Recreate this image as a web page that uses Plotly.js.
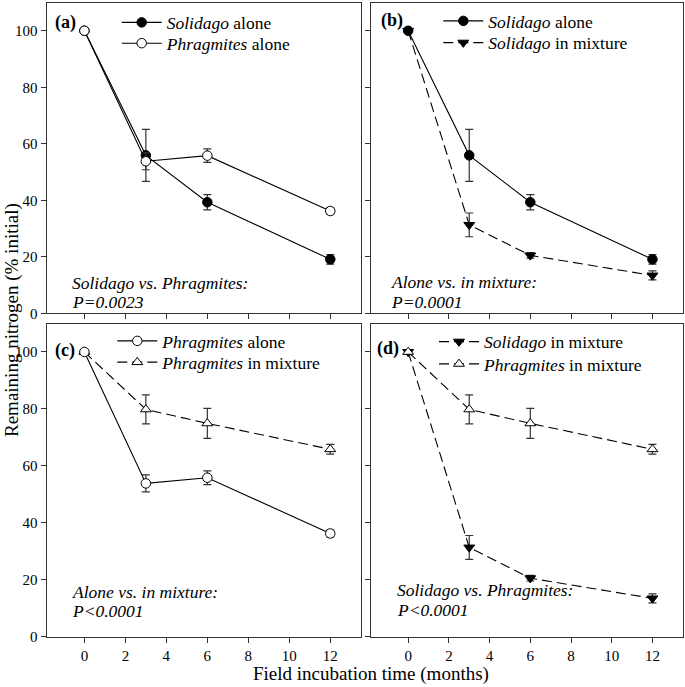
<!DOCTYPE html>
<html>
<head>
<meta charset="utf-8">
<script src="https://cdn.plot.ly/plotly-3.0.1.min.js"></script>
<style>
html,body{margin:0;padding:0;background:#fff}
#chart{width:685px;height:687px}
#chart svg text, #chart svg tspan { font-family: 'Liberation Serif', serif !important; }
</style>
</head>
<body>
<div id="chart"></div>
<script>
// ---- data ----
const months = [0, 3, 6, 12];
const solidagoAlone = [100, 55.9, 39.3, 19.1];
const solidagoAloneSE = [null, 9.2, 2.7, 1.7];
const phragmitesAlone = [100, 53.8, 55.8, 36.2];
const phragmitesAloneSE = [null, 3.0, 2.4, 1.2];
const solidagoMix = [100, 31.3, 20.5, 13.4];
const solidagoMixSE = [null, 4.2, 1.0, 1.6];
const phragmitesMix = [100, 79.8, 74.9, 65.8];
const phragmitesMixSE = [null, 5.1, 5.3, 1.7];
const xTicks = [0, 2, 4, 6, 8, 10, 12];
const yTicks = [0, 20, 40, 60, 80, 100];
const panelLabels = ['(a)', '(b)', '(c)', '(d)'];
const statLine1 = ['Solidago vs. Phragmites:', 'Alone vs. in mixture:', 'Alone vs. in mixture:', 'Solidago vs. Phragmites:'];
const statLine2 = ['P=0.0023', 'P=0.0001', 'P<0.0001', 'P<0.0001'];

// ---- helpers ----
const W = 685, H = 687;
const px = x => x / W;
const py = y => 1 - y / H;
const FONT = 'Liberation Serif';

const series = {
  solAlone: {name: '<i>Solidago</i> alone', y: solidagoAlone, se: solidagoAloneSE, symbol: 'circle', fill: '#000', dash: 'solid'},
  phrAlone: {name: '<i>Phragmites</i> alone', y: phragmitesAlone, se: phragmitesAloneSE, symbol: 'circle', fill: '#fff', dash: 'solid'},
  solMix: {name: '<i>Solidago</i> in mixture', y: solidagoMix, se: solidagoMixSE, symbol: 'triangle-down', fill: '#000', dash: '10px,5px'},
  phrMix: {name: '<i>Phragmites</i> in mixture', y: phragmitesMix, se: phragmitesMixSE, symbol: 'triangle-up', fill: '#fff', dash: '10px,5px'}
};

function trace(key, axIdx, legendId) {
  const s = series[key];
  const sfx = axIdx === 1 ? '' : String(axIdx);
  return {
    type: 'scatter', mode: 'lines+markers',
    x: months, y: s.y, name: s.name,
    xaxis: 'x' + sfx, yaxis: 'y' + sfx,
    legend: legendId, showlegend: true,
    line: {color: '#000', width: 1.1, dash: s.dash},
    marker: {symbol: s.symbol, size: 9.5, color: s.fill, line: {color: '#000', width: 1}},
    error_y: {type: 'data', array: s.se, visible: true, color: '#333', thickness: 1.2, width: 4}
  };
}

// panel -> [bottom-drawn trace, top-drawn trace]
const panels = [
  ['solAlone', 'phrAlone'],
  ['solMix', 'solAlone'],
  ['phrMix', 'phrAlone'],
  ['solMix', 'phrMix']
];
const legendOrder = [
  ['solAlone', 'phrAlone'],
  ['solAlone', 'solMix'],
  ['phrAlone', 'phrMix'],
  ['solMix', 'phrMix']
];

const data = [];
panels.forEach((keys, p) => {
  keys.forEach(k => {
    const row = legendOrder[p].indexOf(k);
    const n = p * 2 + row;
    const lid = 'legend' + (n === 0 ? '' : String(n + 1));
    data.push(trace(k, p + 1, lid));
  });
});

const colX = [[46.5, 361], [370.5, 683]];
const rowY = [[2.5, 313.3], [323.5, 636.5]];

const layout = {
  width: W, height: H,
  margin: {l: 0, r: 0, t: 0, b: 0},
  paper_bgcolor: '#fff', plot_bgcolor: '#fff',
  font: {family: FONT, color: '#000', size: 15},
  annotations: [], showlegend: true
};

for (let p = 0; p < 4; p++) {
  const c = p % 2, r = Math.floor(p / 2);
  const sfx = p === 0 ? '' : String(p + 1);
  layout['xaxis' + sfx] = {
    domain: [px(colX[c][0]), px(colX[c][1])],
    anchor: 'y' + sfx, range: [-1.85, 13.5],
    tickvals: xTicks, ticktext: xTicks.map(String),
    showticklabels: r === 1,
    ticks: 'outside', ticklen: 5, tickwidth: 1, tickcolor: '#333',
    showline: true, mirror: true, linecolor: '#333', linewidth: 1,
    showgrid: false, zeroline: false,
    tickfont: {family: FONT, size: 15, color: '#000'}
  };
  layout['yaxis' + sfx] = {
    domain: [py(rowY[r][1]), py(rowY[r][0])],
    anchor: 'x' + sfx, range: [0, 110],
    tickvals: yTicks, ticktext: yTicks.map(String),
    showticklabels: c === 0,
    ticks: 'outside', ticklen: 5, tickwidth: 1, tickcolor: '#333',
    showline: true, mirror: true, linecolor: '#333', linewidth: 1,
    showgrid: false, zeroline: false,
    tickfont: {family: FONT, size: 15, color: '#000'}
  };
}

// legends (one per entry for exact placement)
const legPos = [
  [166.7, 22.5], [166.7, 43.3],
  [488.3, 21.0], [488.3, 42.7],
  [162.3, 341.0], [162.3, 362.3],
  [484.0, 341.7], [484.0, 364.0]
];
legPos.forEach((pos, i) => {
  const id = 'legend' + (i === 0 ? '' : String(i + 1));
  layout[id] = {
    x: px(pos[0] - 50), y: py(pos[1]), xanchor: 'left', yanchor: 'middle',
    xref: 'paper', yref: 'paper',
    bgcolor: 'rgba(0,0,0,0)', borderwidth: 0, itemwidth: 40,
    font: {family: FONT, size: 17.5, color: '#000'}
  };
});

// panel labels and statistics
const labPos = [[53, 22.7], [379, 20.7], [53, 350], [375, 348.3]];
const statPos = [[70, 282.7, 301.7], [389.3, 281.7, 301.7], [70, 591.7, 611], [395, 590, 610]];
for (let p = 0; p < 4; p++) {
  layout.annotations.push({
    xref: 'paper', yref: 'paper', x: px(labPos[p][0]), y: py(labPos[p][1]),
    xanchor: 'left', yanchor: 'middle', showarrow: false,
    text: '<b>' + panelLabels[p] + '</b>', font: {family: FONT, size: 18, color: '#000'}
  });
  layout.annotations.push({
    xref: 'paper', yref: 'paper', x: px(statPos[p][0]), y: py(statPos[p][1]),
    xanchor: 'left', yanchor: 'middle', showarrow: false,
    text: '<i>' + statLine1[p] + '</i>', font: {family: FONT, size: 17.5, color: '#000'}
  });
  layout.annotations.push({
    xref: 'paper', yref: 'paper', x: px(statPos[p][0]), y: py(statPos[p][2]),
    xanchor: 'left', yanchor: 'middle', showarrow: false,
    text: '<i>' + statLine2[p] + '</i>', font: {family: FONT, size: 17.5, color: '#000'}
  });
}
// shared axis titles
layout.annotations.push({
  xref: 'paper', yref: 'paper', x: px(12), y: py(320), xanchor: 'center', yanchor: 'middle',
  showarrow: false, textangle: -90, text: 'Remaining nitrogen (% initial)',
  font: {family: FONT, size: 19, color: '#000'}
});
layout.annotations.push({
  xref: 'paper', yref: 'paper', x: px(371), y: py(674), xanchor: 'center', yanchor: 'middle',
  showarrow: false, text: 'Field incubation time (months)',
  font: {family: FONT, size: 19, color: '#000'}
});

Plotly.newPlot('chart', data, layout, {staticPlot: true, displayModeBar: false});
</script>
</body>
</html>
